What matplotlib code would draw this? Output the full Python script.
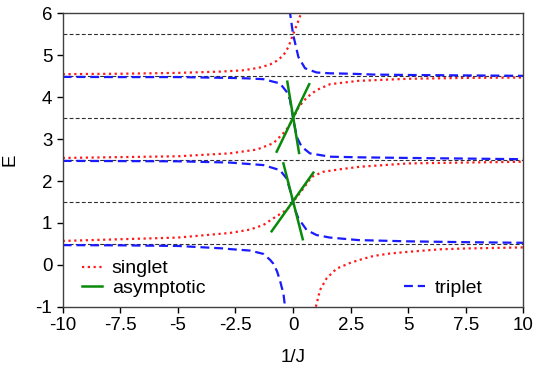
import matplotlib
matplotlib.use("Agg")
from matplotlib import pyplot
import matplotlib.ticker as ticker

pyplot.rcParams['font.family'] = ['Liberation Sans', 'DejaVu Sans']
pyplot.rcParams['axes.unicode_minus'] = False

# singlet branches (red dotted)
s0_x = [0.99, 1.17, 1.46, 1.89, 2.5, 2.9, 3.48, 4.2, 5.0, 6.38, 7.5, 10.0]
s0_e = [-1.0, -0.60, -0.32, -0.09, 0.05, 0.12, 0.21, 0.27, 0.31, 0.37, 0.39, 0.415]
s1_x = [-10, -7.5, -5, -2.74, -1.87, -1.29, -0.86, -0.42, -0.2, 0, 0.4, 0.81, 1.31, 2.04, 2.9, 5, 7.5, 10]
s1_e = [0.57, 0.61, 0.65, 0.76, 0.84, 0.95, 1.11, 1.26, 1.36, 1.5, 1.79, 2.10, 2.22, 2.28, 2.34, 2.42, 2.44, 2.46]
s2_x = [-10, -7.5, -5, -2.74, -1.58, -0.86, -0.42, -0.2, 0, 0.25, 0.59, 1.02, 1.6, 2.83, 5, 7.5, 10]
s2_e = [2.55, 2.57, 2.59, 2.66, 2.75, 2.90, 3.14, 3.29, 3.5, 3.77, 3.99, 4.17, 4.31, 4.39, 4.44, 4.46, 4.47]
s3_x = [-10, -7.5, -5, -3.2, -2.2, -1.5, -1.0, -0.7, -0.42, -0.2, 0, 0.2, 0.4]
s3_e = [4.55, 4.56, 4.58, 4.61, 4.64, 4.70, 4.78, 4.87, 5.0, 5.2, 5.5, 5.78, 6.08]

# triplet branches (blue dashed)
t0_x = [-10, -7.5, -5, -4, -3, -2.74, -1.87, -1.29, -1.0, -0.86, -0.7, -0.57, -0.5, -0.42, -0.35]
t0_e = [0.47, 0.465, 0.45, 0.42, 0.39, 0.375, 0.34, 0.26, 0.12, 0.03, -0.15, -0.37, -0.52, -0.68, -1.0]
t1_x = [-10, -7.5, -5, -2.74, -1.29, -0.57, -0.28, -0.14, 0, 0.1, 0.23, 0.59, 1.02, 1.6, 2.83, 5, 7.5, 10]
t1_e = [2.48, 2.475, 2.47, 2.44, 2.38, 2.26, 2.06, 1.8, 1.5, 1.29, 1.11, 0.83, 0.71, 0.65, 0.59, 0.56, 0.54, 0.525]
t2_x = [-10, -7.5, -5, -2.74, -2.01, -1.29, -0.86, -0.57, -0.28, -0.14, 0, 0.16, 0.37, 0.73, 1.6, 2.9, 5, 7.5, 10]
t2_e = [4.485, 4.48, 4.48, 4.46, 4.45, 4.43, 4.37, 4.33, 4.13, 3.95, 3.5, 3.05, 2.82, 2.66, 2.58, 2.565, 2.55, 2.535, 2.52]
t3_x = [-0.16, -0.13, 0, 0.23, 0.52, 1.02, 1.6, 2.5, 3.5, 5, 7.5, 10]
t3_e = [6.1, 6.0, 5.5, 4.96, 4.69, 4.59, 4.57, 4.56, 4.54, 4.53, 4.52, 4.51]

# asymptotic lines (green), end points
a_x = [[-0.71, 0.70], [-0.25, 0.26], [-0.93, 0.88], [-0.42, 0.42]]
a_e = [[2.70, 4.31], [4.37, 2.67], [0.80, 2.20], [2.42, 0.61]]

levels = [0.5, 1.5, 2.5, 3.5, 4.5, 5.5]

fig = pyplot.figure(figsize=(5.38, 3.72), dpi=100)
ax = fig.add_axes([0.1165, 0.1755, 0.8565, 0.7885])

for lv in levels:
    ax.axhline(lv, color='#303030', linewidth=0.8, linestyle=(0, (3.5, 2.0)), zorder=1)

red = '#ff1a1a'
blue = '#1a1aff'
green = '#0a8a0a'

s_lines = []
for xs, es in [(s0_x, s0_e), (s1_x, s1_e), (s2_x, s2_e), (s3_x, s3_e)]:
    l, = ax.plot(xs, es, color=red, linewidth=1.6, linestyle=(0, (1, 1.6)), zorder=2)
    s_lines.append(l)

t_lines = []
for xs, es in [(t0_x, t0_e), (t1_x, t1_e), (t2_x, t2_e), (t3_x, t3_e)]:
    l, = ax.plot(xs, es, color=blue, linewidth=1.6, linestyle=(0, (4, 2.2)), zorder=2)
    t_lines.append(l)

a_lines = []
for xs, es in zip(a_x, a_e):
    l, = ax.plot(xs, es, color=green, linewidth=1.8, zorder=3)
    a_lines.append(l)

ax.set_xlim(-10, 10)
ax.set_ylim(-1, 6)
ax.xaxis.set_major_locator(ticker.MultipleLocator(2.5))
ax.yaxis.set_major_locator(ticker.MultipleLocator(1))
ax.xaxis.set_major_formatter(ticker.FuncFormatter(lambda v, p: f'{v:g}'))
ax.yaxis.set_major_formatter(ticker.FuncFormatter(lambda v, p: f'{v:g}'))
ax.tick_params(direction='out', length=4, width=1, labelsize=13.5, colors='#000000')
for sp in ax.spines.values():
    sp.set_color('#404040')
    sp.set_linewidth(1)

ax.set_xlabel('1/J', fontsize=13.5, labelpad=11)
ax.set_ylabel('E', fontsize=13.5, labelpad=12)

leg1 = ax.legend([s_lines[0], a_lines[0]], ['singlet', 'asymptotic'], loc='lower left',
                 frameon=False, fontsize=14, handlelength=1.05, handletextpad=0.5,
                 labelspacing=0.1, borderaxespad=0.1, bbox_to_anchor=(0.02, 0.0))
ax.add_artist(leg1)
ax.legend([t_lines[0]], ['triplet'], loc='lower left', frameon=False, fontsize=14,
          handlelength=1.05, handletextpad=0.5, borderaxespad=0.1,
          bbox_to_anchor=(0.72, 0.0))

fig.savefig('out.png')
